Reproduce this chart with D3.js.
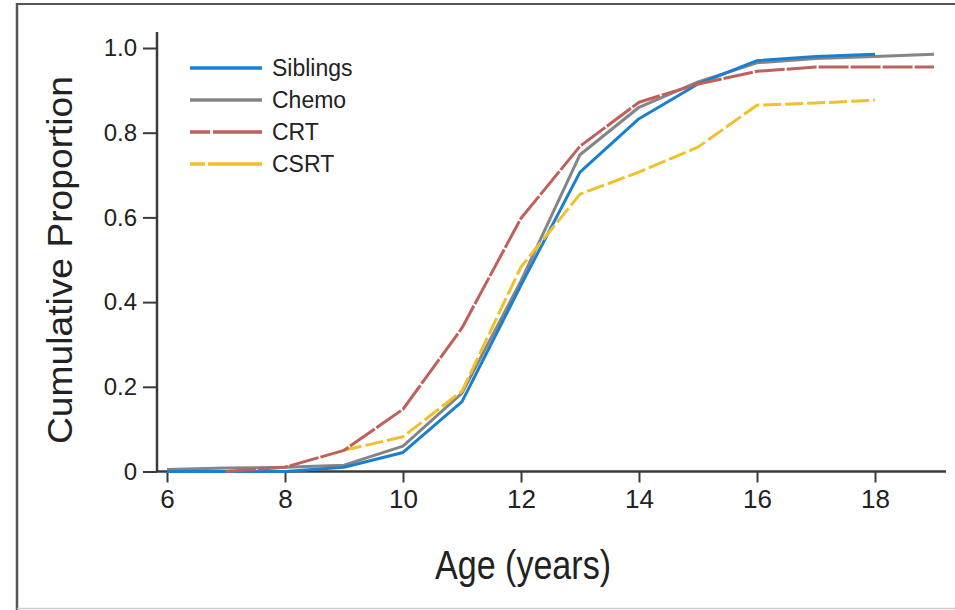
<!DOCTYPE html>
<html>
<head>
<meta charset="utf-8">
<script src="https://cdn.jsdelivr.net/npm/d3@7"></script>
<style>
  body { margin: 0; background: #fff; }
  svg text { font-family: "Liberation Sans", Arial, sans-serif; fill: #222; }
</style>
</head>
<body>
<svg id="chart" width="955" height="610"></svg>
<script>
// ages and cumulative proportions
const ageSiblings = [6, 7, 8, 9, 10, 11, 12, 13, 14, 15, 16, 17, 18];
const siblings    = [0, 0, 0, 0.01, 0.045, 0.165, 0.44, 0.707, 0.833, 0.915, 0.97, 0.98, 0.985];
const ageChemo    = [6, 7, 8, 9, 10, 11, 12, 13, 14, 15, 16, 17, 18, 19];
const chemo       = [0.005, 0.008, 0.01, 0.015, 0.06, 0.185, 0.45, 0.748, 0.86, 0.92, 0.965, 0.975, 0.98, 0.985];
const ageCRT      = [7, 8, 9, 10, 11, 12, 13, 14, 15, 16, 17, 18, 19];
const crt         = [0, 0.01, 0.05, 0.147, 0.339, 0.598, 0.768, 0.872, 0.915, 0.945, 0.955, 0.955, 0.955];
const ageCSRT     = [9, 10, 11, 12, 13, 14, 15, 16, 17, 18];
const csrt        = [0.05, 0.082, 0.19, 0.483, 0.655, 0.707, 0.766, 0.865, 0.87, 0.877];

const seriesNames = ["Siblings", "Chemo", "CRT", "CSRT"];
const xTicks = [6, 8, 10, 12, 14, 16, 18];
const yTicks = [0, 0.2, 0.4, 0.6, 0.8, 1.0];
const xAxisLabel = "Age (years)";
const yAxisLabel = "Cumulative Proportion";

const colors = ["#1b7fcf", "#858585", "#c0605a", "#efc12a"];
const dashes = [null, null, "30,2", "18,4"];

const svg = d3.select("#chart");

// frame around the figure
svg.append("line").attr("x1", 17).attr("x2", 955).attr("y1", 4).attr("y2", 4)
    .attr("stroke", "#555").attr("stroke-width", 2);
svg.append("line").attr("x1", 17).attr("x2", 17).attr("y1", 3).attr("y2", 610)
    .attr("stroke", "#555").attr("stroke-width", 2.5);
svg.append("line").attr("x1", 17).attr("x2", 955).attr("y1", 608.5).attr("y2", 608.5)
    .attr("stroke", "#ccc").attr("stroke-width", 1.5);

const x = d3.scaleLinear().domain([6, 18]).range([167, 875]);
const y = d3.scaleLinear().domain([0, 1]).range([471.5, 48]);

// axes
const xAxisG = svg.append("g")
    .attr("transform", `translate(0, ${y(0)})`)
    .call(d3.axisBottom(x).tickValues(xTicks).tickSize(11).tickPadding(5).tickFormat(d3.format("d")));
xAxisG.select(".domain").attr("d", `M157,0H946`);

const yAxisG = svg.append("g")
    .attr("transform", `translate(157, 0)`)
    .call(d3.axisLeft(y).tickValues(yTicks).tickSize(14).tickPadding(6)
        .tickFormat(d => d === 0 ? "0" : d3.format(".1f")(d)));
yAxisG.select(".domain").attr("d", `M0,32V${y(0)}`);

[xAxisG, yAxisG].forEach(g => {
    g.selectAll(".domain").attr("stroke", "#3a3a3a").attr("stroke-width", 2.5).attr("fill", "none");
    g.selectAll(".tick line").attr("stroke", "#3a3a3a").attr("stroke-width", 2);
    g.selectAll(".tick text").style("font-size", "24px").attr("fill", "#222");
});
xAxisG.selectAll(".tick text").style("font-size", "26px").attr("dy", "0.8em");

// axis titles
svg.append("text")
    .attr("x", 523).attr("y", 579)
    .attr("text-anchor", "middle")
    .style("font-size", "40px")
    .attr("textLength", 176)
    .attr("lengthAdjust", "spacingAndGlyphs")
    .text(xAxisLabel);

svg.append("text")
    .attr("transform", "translate(72, 260) rotate(-90)")
    .attr("text-anchor", "middle")
    .style("font-size", "35px")
    .attr("textLength", 368)
    .attr("lengthAdjust", "spacingAndGlyphs")
    .text(yAxisLabel);

// lines
const line = d3.line().x(d => x(d[0])).y(d => y(d[1]));
const allSeries = [
    d3.zip(ageSiblings, siblings),
    d3.zip(ageChemo, chemo),
    d3.zip(ageCRT, crt),
    d3.zip(ageCSRT, csrt)
];
const drawOrder = [1, 0, 3, 2];
drawOrder.forEach(i => {
    svg.append("path")
        .datum(allSeries[i])
        .attr("d", line)
        .attr("fill", "none")
        .attr("stroke", colors[i])
        .attr("stroke-width", 3)
        .attr("stroke-linejoin", "round")
        .attr("stroke-dasharray", dashes[i]);
});

// legend
const legend = svg.append("g").attr("transform", "translate(190, 68)");
const legendDashes = [null, null, "20,3,60", "15,3,60"];
seriesNames.forEach((name, i) => {
    const row = legend.append("g").attr("transform", `translate(0, ${i * 32})`);
    row.append("line").attr("x1", 0).attr("x2", 72).attr("y1", 0).attr("y2", 0)
        .attr("stroke", colors[i]).attr("stroke-width", 3.5)
        .attr("stroke-dasharray", legendDashes[i]);
    row.append("text").attr("x", 82).attr("y", 0).attr("dy", "0.35em")
        .style("font-size", "23px").text(name);
});
</script>
</body>
</html>
